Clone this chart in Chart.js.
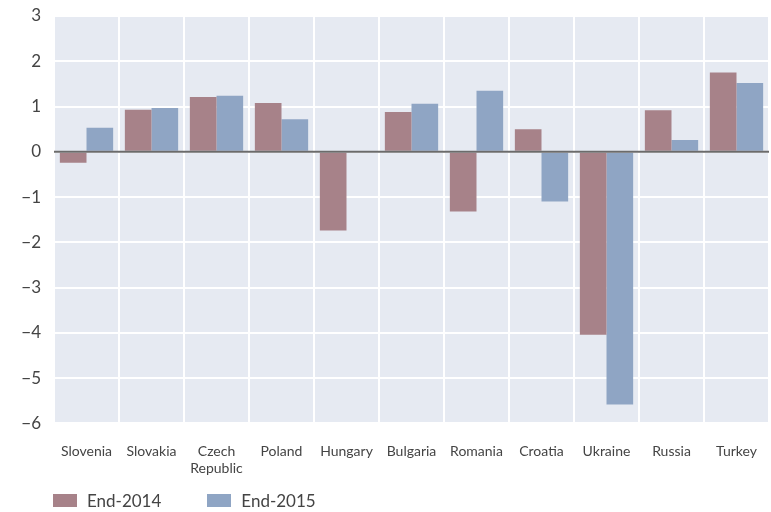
<!DOCTYPE html>
<html><head><meta charset="utf-8">
<script src="https://cdn.jsdelivr.net/npm/chart.js@4/dist/chart.umd.min.js"></script>
<style>
html,body{margin:0;padding:0;background:#fff;}
#wrap{position:relative;width:771px;height:512px;}
#legend{position:absolute;left:53px;top:490px;font-family:Lato,"Open Sans",sans-serif;font-size:17px;color:#444;display:flex;}
.item{display:flex;align-items:center;margin-right:46px;}
.sw{width:24px;height:13px;margin-right:10px;}
</style></head>
<body><div id="wrap"><canvas id="c" width="771" height="512"></canvas>
<div id="legend"></div></div>
<script>
const categories = ["Slovenia","Slovakia",["Czech","Republic"],"Poland","Hungary","Bulgaria","Romania","Croatia","Ukraine","Russia","Turkey"];
const end2014 = [-0.24,0.93,1.21,1.08,-1.74,0.88,-1.32,0.50,-4.04,0.92,1.75];
const end2015 = [0.53,0.97,1.24,0.72,0.0,1.06,1.35,-1.10,-5.58,0.26,1.52];
const seriesNames = ["End-2014","End-2015"];
const colors = ["#a78289","#8fa5c4"];

const bgPlugin = {
  id:'bg',
  beforeDraw(chart){
    const {ctx, chartArea:a} = chart;
    ctx.save(); ctx.fillStyle='#e6eaf2';
    ctx.fillRect(a.left,a.top,a.right-a.left,a.bottom-a.top); ctx.restore();
  },
  afterDatasetsDraw(chart){
    const {ctx, chartArea:a, scales} = chart;
    const y = scales.y.getPixelForValue(0);
    ctx.save(); ctx.strokeStyle='#6b6b6b'; ctx.lineWidth=2;
    ctx.beginPath(); ctx.moveTo(a.left,y); ctx.lineTo(a.right,y); ctx.stroke(); ctx.restore();
  }
};

new Chart(document.getElementById('c'),{
  type:'bar',
  data:{labels:categories,datasets:[
    {label:seriesNames[0],data:end2014,backgroundColor:colors[0]},
    {label:seriesNames[1],data:end2015,backgroundColor:colors[1]}
  ]},
  options:{
    responsive:false,animation:false,
    layout:{padding:{top:16,right:2,bottom:15,left:0}},
    datasets:{bar:{categoryPercentage:0.82,barPercentage:1.0}},
    plugins:{legend:{display:false},tooltip:{enabled:false}},
    scales:{
      x:{
        grid:{color:'#ffffff',lineWidth:2,drawTicks:false,offset:true},
        border:{display:false},
        afterFit(s){s.paddingLeft=0;s.paddingRight=0;},
        ticks:{font:{family:'Lato',size:14},color:'#444',padding:20,maxRotation:0,autoSkip:false}
      },
      y:{
        min:-6,max:3,
        grid:{color:'#ffffff',lineWidth:2,drawTicks:false},
        border:{display:false},
        afterFit(s){s.width=54;s.paddingTop=0;s.paddingBottom=0;},
        ticks:{stepSize:1,font:{family:'Lato',size:17},color:'#444',padding:13,
          callback:v=>v<0?'\u2212'+Math.abs(v):String(v)}
      }
    }
  },
  plugins:[bgPlugin]
});

const lg=document.getElementById('legend');
seriesNames.forEach((n,i)=>{
  const d=document.createElement('div');d.className='item';
  d.innerHTML='<span class="sw" style="background:'+colors[i]+'"></span><span>'+n+'</span>';
  lg.appendChild(d);
});
</script></body></html>
